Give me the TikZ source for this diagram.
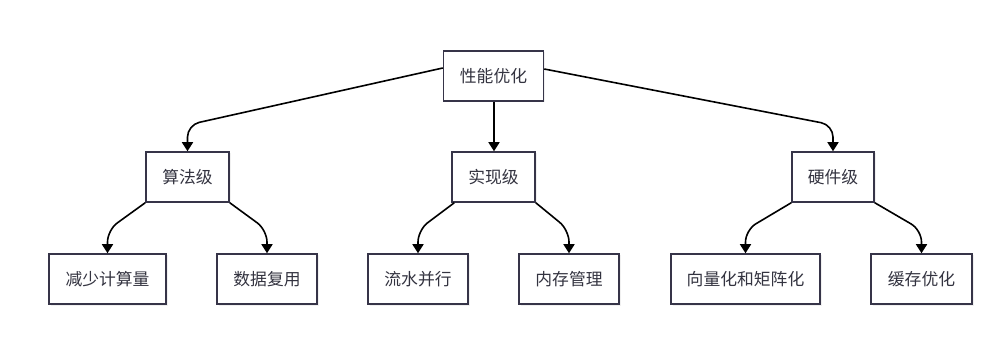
\documentclass[tikz,border=0pt]{standalone}
\usepackage{fontspec}
\setmainfont{Noto Sans CJK SC}
\usetikzlibrary{arrows.meta,shadows}
\definecolor{bordercol}{RGB}{54,52,72}
\definecolor{textcol}{RGB}{51,51,64}
\tikzset{
  box/.style={draw=bordercol, line width=1.5pt, fill=white, minimum height=50pt,
    inner sep=0pt, text=textcol, font=\fontsize{16.8}{19}\selectfont,
    drop shadow={shadow xshift=1.5pt, shadow yshift=-1.5pt, opacity=0.12}},
  conn/.style={draw=black, line width=1.6pt, rounded corners=12pt,
    -{Triangle[width=11pt,length=9pt]}}
}
\begin{document}
\begin{tikzpicture}[x=1pt,y=-1pt]
\useasboundingbox (0,0) rectangle (1000,344);
\node[box, minimum width=100pt] (root) at (493.5,76) {性能优化};
\node[box, minimum width=83pt] (alg) at (187.5,177) {算法级};
\node[box, minimum width=83pt] (impl) at (493.5,177) {实现级};
\node[box, minimum width=82pt] (hw) at (833,177) {硬件级};
\node[box, minimum width=117pt] (c1) at (107.5,279) {减少计算量};
\node[box, minimum width=100pt] (c2) at (267,279) {数据复用};
\node[box, minimum width=100pt] (c3) at (418,279) {流水并行};
\node[box, minimum width=100pt] (c4) at (569,279) {内存管理};
\node[box, minimum width=149pt] (c5) at (745.5,279) {向量化和矩阵化};
\node[box, minimum width=101pt] (c6) at (921.5,279) {缓存优化};

\draw[conn] ([yshift=8pt]root.west) -- (alg.center |- 0,125) -- (alg.north);
\draw[conn] ([xshift=0.5pt]root.south) -- ([xshift=0.5pt]impl.north);
\draw[conn] ([yshift=7pt]root.east) -- (hw.center |- 0,125) -- (hw.north);

\draw[conn] (alg.south west) -- (c1.center |- 0,230) -- (c1.north);
\draw[conn] (alg.south east) -- (c2.center |- 0,230) -- (c2.north);
\draw[conn] ([xshift=3pt]impl.south west) -- (c3.center |- 0,230) -- (c3.north);
\draw[conn] (impl.south east) -- (c4.center |- 0,230) -- (c4.north);
\draw[conn] (hw.south west) -- (c5.center |- 0,230) -- (c5.north);
\draw[conn] (hw.south east) -- (c6.center |- 0,230) -- (c6.north);
\end{tikzpicture}
\end{document}
